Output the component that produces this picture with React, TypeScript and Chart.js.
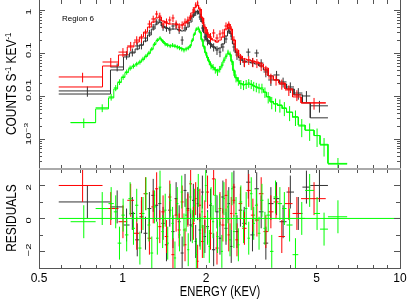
import React, { useEffect, useRef } from "react";
import { Chart, registerables } from "chart.js";
Chart.register(...registerables);

// ---------- axes ----------
const X_MIN = 0.5;
const X_MAX = 10;
const X_TICKS = [0.5, 0.6, 0.7, 0.8, 0.9, 1, 2, 3, 4, 5, 6, 7, 8, 9, 10];
const X_TICK_LABELS = [0.5, 1, 2, 5, 10];
const Y_TOP_MIN = 2.0e-4;
const Y_TOP_MAX = 1.71;
const Y_TOP_DECADES = [1e-4, 1e-3, 1e-2, 0.1, 1];
const Y_TOP_LABELS = ["1", "0.1", "0.01"];
const Y_TOP_LABEL_VALUES = [1, 0.1, 0.01];
const RES_MIN = -3.07;
const RES_MAX = 3.0;
const RES_TICKS = [-3, -2, -1, 0, 1, 2, 3];
const RES_LABEL_VALUES = [2, 0, -2];
const RES_LABELS = ["2", "0", "\u22122"];
const RES_ZERO_LINE = [0.589, 10];

// ---------- black series ----------
const BLACK_EDGES = [0.589, 0.905, 1.008, 1.06, 1.11, 1.15, 1.19, 1.23, 1.27, 1.31, 1.345, 1.38, 1.42, 1.46, 1.5, 1.54, 1.58, 1.62, 1.66, 1.7, 1.74, 1.78, 1.82, 1.85, 1.88, 1.92, 1.96, 2.0, 2.05, 2.1, 2.16, 2.22, 2.27, 2.33, 2.39, 2.44, 2.49, 2.55, 2.62, 2.7, 2.79, 2.89, 2.99, 3.1, 3.22, 3.35, 3.5, 3.68, 3.9, 4.15, 4.45, 4.75, 5.5];
const BLACK_COUNTS = [0.0131, 0.0473, 0.09, 0.105, 0.146, 0.153, 0.223, 0.292, 0.402, 0.526, 0.585, 0.402, 0.381, 0.343, 0.424, 0.448, 0.343, 0.2, 0.381, 0.498, 0.652, 0.765, 0.852, 0.899, 0.687, 0.381, 0.236, 0.19, 0.162, 0.138, 0.117, 0.105, 0.138, 0.212, 0.343, 0.248, 0.138, 0.09, 0.0687, 0.0617, 0.105, 0.0617, 0.1, 0.0585, 0.0362, 0.0236, 0.0308, 0.0212, 0.0162, 0.0117, 0.01, 0.0059];
const BLACK_ERR = [0.0035, 0.01, 0.02, 0.022, 0.03, 0.032, 0.045, 0.055, 0.07, 0.085, 0.09, 0.075, 0.07, 0.065, 0.075, 0.08, 0.065, 0.045, 0.07, 0.085, 0.1, 0.11, 0.12, 0.12, 0.1, 0.07, 0.05, 0.04, 0.035, 0.03, 0.027, 0.025, 0.03, 0.042, 0.06, 0.048, 0.03, 0.021, 0.016, 0.014, 0.022, 0.014, 0.02, 0.013, 0.009, 0.0065, 0.0075, 0.0055, 0.0045, 0.0035, 0.003, 0.0018];
const BLACK_MODEL = [0.0111, 0.0403, 0.081, 0.1, 0.124, 0.153, 0.19, 0.262, 0.361, 0.472, 0.526, 0.424, 0.381, 0.361, 0.361, 0.361, 0.343, 0.325, 0.343, 0.402, 0.526, 0.725, 0.899, 0.948, 0.807, 0.526, 0.292, 0.2, 0.162, 0.138, 0.124, 0.131, 0.162, 0.248, 0.325, 0.277, 0.162, 0.1, 0.077, 0.0652, 0.0617, 0.0585, 0.0555, 0.0499, 0.0403, 0.0292, 0.0236, 0.019, 0.0146, 0.0106, 0.0069, 0.0031];
const BLACK_RESID = [1.0, 0.7, -0.4, 0.3, -1.3, 0.1, -0.9, 0.6, 1.4, 0.8, 0.9, -0.3, -1.6, 0.5, -0.8, 1.2, -0.2, -2.1, 1.7, 0.6, -0.4, 1.1, -1.4, 0.9, -0.7, 1.6, -1.1, -0.5, 0.8, -1.9, 0.4, -1.2, 1.3, -0.6, 0.9, -1.7, 1.9, -0.8, 0.5, -0.3, 2.2, -1.0, 1.8, 0.4, -1.5, 0.9, 1.2, -0.2, 1.6, 0.3, 1.9, 2.0];

// ---------- red series ----------
const RED_EDGES = [0.589, 0.847, 0.967, 1.04, 1.1, 1.15, 1.19, 1.23, 1.27, 1.31, 1.345, 1.38, 1.42, 1.46, 1.5, 1.54, 1.58, 1.62, 1.66, 1.7, 1.74, 1.78, 1.82, 1.85, 1.88, 1.92, 1.96, 2.0, 2.05, 2.1, 2.16, 2.22, 2.27, 2.33, 2.39, 2.44, 2.49, 2.55, 2.62, 2.7, 2.8, 2.9, 3.0, 3.1, 3.22, 3.35, 3.5, 3.65, 3.85, 4.1, 4.4, 5.4];
const RED_COUNTS = [0.0277, 0.0617, 0.105, 0.146, 0.2, 0.223, 0.292, 0.472, 0.618, 0.807, 0.725, 0.472, 0.526, 0.585, 0.652, 0.472, 0.402, 0.448, 0.526, 0.585, 0.725, 1.0, 1.307, 1.455, 1.0, 0.585, 0.381, 0.292, 0.236, 0.292, 0.223, 0.277, 0.292, 0.424, 0.448, 0.343, 0.2, 0.105, 0.077, 0.0617, 0.0687, 0.0617, 0.0585, 0.0499, 0.0403, 0.0262, 0.0236, 0.019, 0.0138, 0.0106, 0.0069];
const RED_ERR = [0.007, 0.015, 0.025, 0.035, 0.045, 0.05, 0.065, 0.1, 0.12, 0.15, 0.14, 0.1, 0.11, 0.12, 0.13, 0.1, 0.09, 0.095, 0.11, 0.12, 0.14, 0.17, 0.2, 0.21, 0.17, 0.12, 0.085, 0.065, 0.055, 0.065, 0.05, 0.06, 0.065, 0.09, 0.095, 0.075, 0.045, 0.025, 0.018, 0.015, 0.016, 0.015, 0.014, 0.012, 0.01, 0.0068, 0.0062, 0.005, 0.0038, 0.003, 0.0021];
const RED_MODEL = [0.0162, 0.0499, 0.09, 0.138, 0.18, 0.236, 0.308, 0.402, 0.526, 0.652, 0.687, 0.555, 0.498, 0.472, 0.472, 0.472, 0.448, 0.448, 0.498, 0.555, 0.687, 0.899, 1.174, 1.307, 1.055, 0.652, 0.402, 0.277, 0.223, 0.2, 0.18, 0.2, 0.236, 0.361, 0.472, 0.361, 0.2, 0.117, 0.085, 0.0725, 0.0687, 0.0652, 0.0617, 0.0555, 0.0448, 0.0292, 0.0236, 0.0201, 0.0146, 0.0095, 0.0069];
const RED_RESID = [2.0, 0.6, -0.2, 1.1, -0.9, 0.3, 1.5, -1.2, 0.7, 1.8, -0.5, 0.4, -1.1, 1.3, -2.2, 0.2, -0.7, 1.0, -1.6, 0.5, 2.1, -0.3, 1.2, -2.6, 0.8, -1.4, 0.1, 1.6, -0.9, 2.4, -1.8, 0.6, -0.4, 1.4, -1.0, 0.3, 1.1, -1.3, 0.9, -0.6, 1.7, 0.2, -0.1, 1.5, -0.8, 0.4, 1.0, -1.1, 0.9, 0.3, 1.2];

// ---------- green series ----------
const GREEN_EDGES = [0.65, 0.8, 0.89, 0.93, 0.96, 0.99, 1.02, 1.05, 1.08, 1.11, 1.14, 1.17, 1.2, 1.23, 1.26, 1.29, 1.32, 1.35, 1.38, 1.41, 1.44, 1.47, 1.5, 1.53, 1.56, 1.59, 1.62, 1.65, 1.68, 1.71, 1.74, 1.77, 1.8, 1.83, 1.86, 1.89, 1.92, 1.95, 1.98, 2.01, 2.04, 2.07, 2.1, 2.14, 2.18, 2.22, 2.26, 2.3, 2.34, 2.38, 2.42, 2.46, 2.5, 2.54, 2.59, 2.64, 2.7, 2.76, 2.82, 2.88, 2.94, 3.0, 3.07, 3.14, 3.22, 3.3, 3.4, 3.5, 3.62, 3.76, 3.9, 4.1, 4.3, 4.55, 4.9, 5.15, 5.5, 6.45];
const GREEN_COUNTS = [0.0024, 0.0053, 0.0095, 0.0154, 0.0212, 0.0277, 0.0362, 0.0448, 0.0499, 0.0555, 0.0617, 0.0725, 0.085, 0.1, 0.124, 0.162, 0.2, 0.223, 0.19, 0.162, 0.153, 0.146, 0.153, 0.146, 0.138, 0.131, 0.124, 0.117, 0.124, 0.131, 0.146, 0.2, 0.277, 0.361, 0.381, 0.308, 0.2, 0.138, 0.1, 0.077, 0.0617, 0.0499, 0.0473, 0.0403, 0.0362, 0.0425, 0.0526, 0.0687, 0.085, 0.105, 0.095, 0.0617, 0.0362, 0.0262, 0.0223, 0.019, 0.018, 0.019, 0.0201, 0.019, 0.0171, 0.0162, 0.0154, 0.0154, 0.0124, 0.0095, 0.0072, 0.0065, 0.0062, 0.0053, 0.0042, 0.0033, 0.002, 0.0016, 0.0012, 0.00072, 0.00026];
const GREEN_ERR = [0.0006, 0.0011, 0.0017, 0.0025, 0.0032, 0.004, 0.005, 0.006, 0.0065, 0.007, 0.0078, 0.009, 0.01, 0.012, 0.014, 0.018, 0.021, 0.023, 0.02, 0.018, 0.017, 0.016, 0.017, 0.016, 0.016, 0.015, 0.015, 0.014, 0.015, 0.015, 0.016, 0.021, 0.027, 0.033, 0.034, 0.029, 0.021, 0.016, 0.013, 0.011, 0.0095, 0.0082, 0.008, 0.0072, 0.0068, 0.0074, 0.0085, 0.01, 0.012, 0.014, 0.013, 0.0095, 0.0068, 0.0055, 0.005, 0.0045, 0.0043, 0.0045, 0.0046, 0.0045, 0.0042, 0.004, 0.0039, 0.0039, 0.0034, 0.0028, 0.0023, 0.0022, 0.0021, 0.0019, 0.0016, 0.0013, 0.0009, 0.0007, 0.00055, 0.00033, 0.0001];
const GREEN_MODEL = [0.0024, 0.005, 0.009, 0.0145, 0.0205, 0.027, 0.035, 0.043, 0.049, 0.055, 0.061, 0.07, 0.083, 0.098, 0.122, 0.158, 0.195, 0.215, 0.19, 0.165, 0.152, 0.147, 0.146, 0.143, 0.139, 0.133, 0.127, 0.122, 0.124, 0.13, 0.147, 0.195, 0.27, 0.345, 0.365, 0.305, 0.205, 0.142, 0.102, 0.079, 0.063, 0.052, 0.046, 0.041, 0.038, 0.041, 0.05, 0.066, 0.082, 0.098, 0.092, 0.064, 0.039, 0.027, 0.0225, 0.0195, 0.0185, 0.0185, 0.019, 0.0185, 0.0172, 0.0162, 0.0152, 0.0145, 0.0122, 0.0096, 0.0074, 0.0066, 0.006, 0.0051, 0.0042, 0.0032, 0.0021, 0.0016, 0.0012, 0.00075, 0.00027];
const GREEN_RESID = [-0.2, 0.6, 0.9, 0.4, -1.5, 0.2, -1.0, 1.2, -0.6, 0.8, -1.8, 0.3, 1.5, -0.4, -2.1, 0.7, -1.2, 1.9, -0.8, 0.5, -1.5, 1.1, -0.3, -2.4, 0.9, -1.0, 1.6, -0.7, 0.2, -1.9, 1.3, -0.5, 0.8, -2.2, 1.7, -0.9, 0.4, -1.4, 2.0, -0.6, -1.7, 0.9, -0.2, 1.4, -1.1, 0.5, -2.0, 1.2, -0.4, 0.7, -1.3, 1.8, -0.8, 0.3, -1.6, 1.0, -0.5, 0.6, -1.2, 1.5, -0.3, 0.8, -0.9, 1.1, -0.6, 0.2, -2.0, 1.3, 0.9, 0.6, -0.4, -2.2, 0.0, 1.7, 0.3, -0.65, 0.1];

const BLACK = "#333333";
const RED = "#ff0000";
const GREEN = "#00ff00";
const AXIS = "#555555";
const FONT = "'Liberation Sans', Arial, sans-serif";

type Pt = { x: number; y: number | null };

function crosses(edges: number[], vals: number[], errs: number[] | number, floor: number): Pt[] {
  const pts: Pt[] = [];
  for (let i = 0; i < vals.length; i++) {
    const lo = edges[i], hi = edges[i + 1], c = (lo + hi) / 2, v = vals[i];
    const e = typeof errs === "number" ? errs : errs[i];
    pts.push({ x: lo, y: v }, { x: hi, y: v }, { x: c, y: null });
    pts.push({ x: c, y: Math.max(v - e, floor) }, { x: c, y: v + e }, { x: c, y: null });
  }
  return pts;
}

function steps(edges: number[], vals: number[]): Pt[] {
  const pts: Pt[] = [];
  for (let i = 0; i < vals.length; i++) {
    pts.push({ x: edges[i], y: vals[i] }, { x: edges[i + 1], y: vals[i] });
  }
  return pts;
}

function ds(data: Pt[], color: string) {
  return {
    type: "line" as const,
    data,
    borderColor: color,
    backgroundColor: color,
    borderWidth: 1,
    pointRadius: 0,
    pointHoverRadius: 0,
    fill: false,
    spanGaps: false,
    tension: 0,
    clip: 0,
  };
}

function rotText(ctx: CanvasRenderingContext2D, text: string, x: number, y: number, font: string, along: number, align: CanvasTextAlign) {
  ctx.save();
  ctx.translate(x, y);
  ctx.rotate(-Math.PI / 2);
  ctx.scale(along, 1);
  ctx.font = font;
  ctx.textAlign = align;
  ctx.textBaseline = "alphabetic";
  ctx.fillText(text, 0, 0);
  ctx.restore();
}

const topDeco = {
  id: "topDeco",
  afterDatasetsDraw(chart: any) {
    const { ctx, chartArea: a } = chart;
    const xs = chart.scales.x, ys = chart.scales.y;
    ctx.save();
    ctx.strokeStyle = AXIS;
    ctx.lineWidth = 1;
    ctx.beginPath();
    for (const t of X_TICKS) {
      const px = Math.round(xs.getPixelForValue(t)) + 0.5;
      ctx.moveTo(px, a.top); ctx.lineTo(px, a.top + 4);
      ctx.moveTo(px, a.bottom); ctx.lineTo(px, a.bottom - 4);
    }
    for (const d of Y_TOP_DECADES) {
      for (let k = 1; k <= 9; k++) {
        const v = k * d;
        if (v < Y_TOP_MIN || v > Y_TOP_MAX) continue;
        const py = Math.round(ys.getPixelForValue(v)) + 0.5;
        const len = k === 1 ? 6 : 3;
        ctx.moveTo(a.left, py); ctx.lineTo(a.left + len, py);
        ctx.moveTo(a.right, py); ctx.lineTo(a.right - len, py);
      }
    }
    ctx.moveTo(a.left + 0.5, 0); ctx.lineTo(a.left + 0.5, a.bottom);
    ctx.moveTo(a.right + 0.5, 0); ctx.lineTo(a.right + 0.5, a.bottom);
    ctx.stroke();

    ctx.fillStyle = "#000";
    const lf = `8px ${FONT}`;
    Y_TOP_LABELS.forEach((s, i) => {
      const py = ys.getPixelForValue(Y_TOP_LABEL_VALUES[i]);
      rotText(ctx, s, 31, py + 5, lf, 1.4, "left");
    });
    {
      const py = ys.getPixelForValue(0.001);
      ctx.save();
      ctx.translate(31, py + 6);
      ctx.rotate(-Math.PI / 2);
      ctx.scale(1.4, 1);
      ctx.font = lf;
      ctx.textAlign = "left";
      ctx.fillText("10", 0, 0);
      const w = ctx.measureText("10").width;
      ctx.font = `6px ${FONT}`;
      ctx.fillText("\u22123", w, -3.5);
      ctx.restore();
    }
    ctx.save();
    ctx.translate(16, 135);
    ctx.rotate(-Math.PI / 2);
    ctx.scale(0.85, 1);
    ctx.textAlign = "left";
    let x = 0;
    const parts: [string, boolean][] = [["COUNTS S", false], ["-1", true], [" KEV", false], ["-1", true]];
    for (const [s, sup] of parts) {
      ctx.font = sup ? `9px ${FONT}` : `14px ${FONT}`;
      ctx.fillText(s, x, sup ? -5 : 0);
      x += ctx.measureText(s).width;
    }
    ctx.restore();
    ctx.font = `8px ${FONT}`;
    ctx.textAlign = "left";
    ctx.fillText("Region 6", 62, 20.5);
    ctx.restore();
  },
};

const botDeco = {
  id: "botDeco",
  afterDatasetsDraw(chart: any) {
    const { ctx, chartArea: a } = chart;
    const xs = chart.scales.x, ys = chart.scales.y;
    ctx.save();
    ctx.strokeStyle = AXIS;
    ctx.lineWidth = 1;
    ctx.beginPath();
    for (const t of X_TICKS) {
      const px = Math.round(xs.getPixelForValue(t)) + 0.5;
      ctx.moveTo(px, a.top); ctx.lineTo(px, a.top + 4);
      ctx.moveTo(px, a.bottom); ctx.lineTo(px, a.bottom - 4);
    }
    for (const t of RES_TICKS) {
      const py = Math.round(ys.getPixelForValue(t)) + 0.5;
      const len = t % 2 === 0 ? 6 : 4;
      ctx.moveTo(a.left, py); ctx.lineTo(a.left + len, py);
      ctx.moveTo(a.right, py); ctx.lineTo(a.right - len, py);
    }
    ctx.moveTo(a.left + 0.5, a.top); ctx.lineTo(a.left + 0.5, a.bottom);
    ctx.moveTo(a.right + 0.5, a.top); ctx.lineTo(a.right + 0.5, a.bottom);
    ctx.moveTo(a.left, a.bottom - 0.5); ctx.lineTo(a.right + 1, a.bottom - 0.5);
    ctx.stroke();
    ctx.fillStyle = "#aaaaaa";
    ctx.fillRect(a.left, a.top - 1, a.right - a.left + 1, 2);

    ctx.fillStyle = "#000";
    ctx.font = `12px ${FONT}`;
    ctx.textAlign = "center";
    ctx.textBaseline = "alphabetic";
    for (const t of X_TICK_LABELS) {
      ctx.fillText(String(t), xs.getPixelForValue(t), 115);
    }
    ctx.save();
    ctx.translate(220, 129);
    ctx.scale(0.8, 1);
    ctx.font = `14px ${FONT}`;
    ctx.textAlign = "center";
    ctx.fillText("ENERGY (KEV)", 0, 0);
    ctx.restore();
    RES_LABELS.forEach((s, i) => {
      const py = ys.getPixelForValue(RES_LABEL_VALUES[i]);
      rotText(ctx, s, 31, py + 5, `8px ${FONT}`, 1.4, "left");
    });
    rotText(ctx, "RESIDUALS", 16, 51, `14px ${FONT}`, 0.85, "center");
    ctx.restore();
  },
};

export default function App() {
  const topRef = useRef<HTMLCanvasElement>(null);
  const botRef = useRef<HTMLCanvasElement>(null);

  useEffect(() => {
    const common = {
      responsive: false,
      animation: false as const,
      events: [] as any[],
      devicePixelRatio: 1,
      plugins: { legend: { display: false }, tooltip: { enabled: false }, title: { display: false } },
    };
    const top = new Chart(topRef.current!, {
      type: "line",
      data: {
        datasets: [
          ds(crosses(GREEN_EDGES, GREEN_COUNTS, GREEN_ERR, 1e-6), GREEN),
          ds(steps(GREEN_EDGES, GREEN_MODEL), GREEN),
          ds(crosses(RED_EDGES, RED_COUNTS, RED_ERR, 1e-6), RED),
          ds(steps(RED_EDGES, RED_MODEL), RED),
          ds(crosses(BLACK_EDGES, BLACK_COUNTS, BLACK_ERR, 1e-6), BLACK),
          ds(steps(BLACK_EDGES, BLACK_MODEL), BLACK),
        ] as any,
      },
      options: {
        ...common,
        layout: { padding: { left: 39, right: 15, top: 0, bottom: 3 } },
        scales: {
          x: { type: "logarithmic", min: X_MIN, max: X_MAX, display: false, bounds: "data" },
          y: { type: "logarithmic", min: Y_TOP_MIN, max: Y_TOP_MAX, display: false, bounds: "data" },
        },
      } as any,
      plugins: [topDeco],
    });
    const bot = new Chart(botRef.current!, {
      type: "line",
      data: {
        datasets: [
          ds([{ x: RES_ZERO_LINE[0], y: 0 }, { x: RES_ZERO_LINE[1], y: 0 }], GREEN),
          ds(crosses(GREEN_EDGES, GREEN_RESID, 1, -100), GREEN),
          ds(crosses(RED_EDGES, RED_RESID, 1, -100), RED),
          ds(crosses(BLACK_EDGES, BLACK_RESID, 1, -100), BLACK),
        ] as any,
      },
      options: {
        ...common,
        layout: { padding: { left: 39, right: 15, top: 2, bottom: 30 } },
        scales: {
          x: { type: "logarithmic", min: X_MIN, max: X_MAX, display: false, bounds: "data" },
          y: { type: "linear", min: RES_MIN, max: RES_MAX, display: false, bounds: "data" },
        },
      } as any,
      plugins: [botDeco],
    });
    return () => {
      top.destroy();
      bot.destroy();
    };
  }, []);

  return (
    <div style={{ position: "absolute", left: 0, top: 0, width: 415, height: 299, background: "#fff", overflow: "hidden" }}>
      <canvas ref={topRef} width={415} height={172} style={{ position: "absolute", left: 0, top: 0 }} />
      <canvas ref={botRef} width={415} height={132} style={{ position: "absolute", left: 0, top: 167 }} />
    </div>
  );
}
